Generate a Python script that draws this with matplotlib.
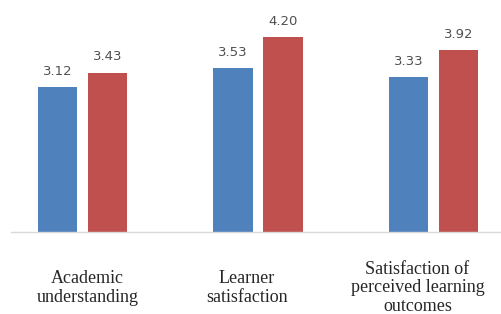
import numpy as np
import matplotlib.pyplot as plt

categories = ['Academic\nunderstanding', 'Learner\nsatisfaction',
              'Satisfaction of\nperceived learning\noutcomes']
series_a = [3.12, 3.53, 3.33]
series_b = [3.43, 4.20, 3.92]

blue = '#4F81BD'
red = '#C0504D'

fig = plt.figure(figsize=(5.01, 3.14), dpi=100)
ax = fig.add_axes([11 / 501, 1 - 232 / 314, 490 / 501, 232 / 314])

x = np.arange(len(categories))
w = 0.225
off = 0.1425
bars_a = ax.bar(x - off, series_a, w, color=blue)
bars_b = ax.bar(x + off, series_b, w, color=red)

for bars, vals in ((bars_a, series_a), (bars_b, series_b)):
    for b, v in zip(bars, vals):
        ax.annotate(f'{v:.2f}', xy=(b.get_x() + b.get_width() / 2, v),
                    xytext=(0, 16), textcoords='offset pixels',
                    ha='center', va='center', fontsize=9.5, color='#505050',
                    family='DejaVu Sans')

# category labels are not quite centred under the groups in the original
label_shift = [5, -11, -16]
for i, lab in enumerate(categories):
    ax.annotate(lab, xy=(i, 0), xycoords=('data', 'axes fraction'),
                xytext=(label_shift[i], -56), textcoords='offset pixels',
                ha='center', va='center', fontsize=13, family='Liberation Serif',
                color='#262626', linespacing=1.1)

ax.set_xlim(-0.407, 2.385)
ax.set_ylim(0, 5)
for s in ('top', 'right', 'left'):
    ax.spines[s].set_visible(False)
ax.spines['bottom'].set_color('#D9D9D9')
ax.spines['bottom'].set_linewidth(1)
ax.set_xticks([])
ax.set_yticks([])

fig.savefig('out.png', dpi=100)
